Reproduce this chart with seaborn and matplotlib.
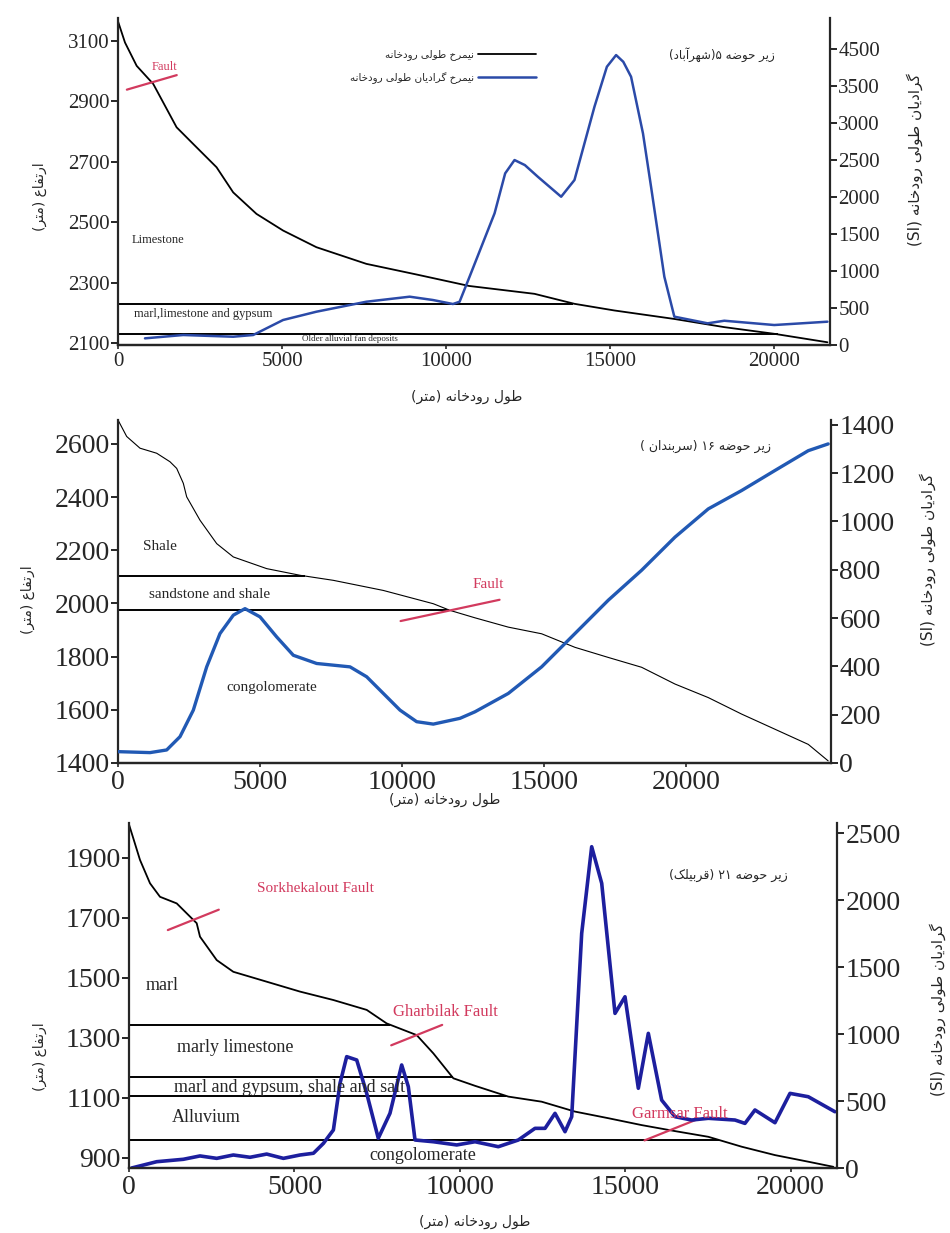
import re
import numpy as np
import pandas as pd
import matplotlib
matplotlib.use("Agg")
import matplotlib.pyplot as plt
import seaborn as sns

# matplotlib has no Arabic shaping, so Persian strings are shaped by hand
# (presentation forms) and put into visual order
FORMS = {
    'ا': (0xFE8D, 0xFE8E, None, None), 'آ': (0xFE81, 0xFE82, None, None),
    'ب': (0xFE8F, 0xFE90, 0xFE91, 0xFE92), 'ت': (0xFE95, 0xFE96, 0xFE97, 0xFE98),
    'ج': (0xFE9D, 0xFE9E, 0xFE9F, 0xFEA0), 'ح': (0xFEA1, 0xFEA2, 0xFEA3, 0xFEA4),
    'خ': (0xFEA5, 0xFEA6, 0xFEA7, 0xFEA8), 'د': (0xFEA9, 0xFEAA, None, None),
    'ر': (0xFEAD, 0xFEAE, None, None), 'ز': (0xFEAF, 0xFEB0, None, None),
    'س': (0xFEB1, 0xFEB2, 0xFEB3, 0xFEB4), 'ش': (0xFEB5, 0xFEB6, 0xFEB7, 0xFEB8),
    'ض': (0xFEBD, 0xFEBE, 0xFEBF, 0xFEC0), 'ط': (0xFEC1, 0xFEC2, 0xFEC3, 0xFEC4),
    'ع': (0xFEC9, 0xFECA, 0xFECB, 0xFECC), 'ف': (0xFED1, 0xFED2, 0xFED3, 0xFED4),
    'ق': (0xFED5, 0xFED6, 0xFED7, 0xFED8), 'ل': (0xFEDD, 0xFEDE, 0xFEDF, 0xFEE0),
    'م': (0xFEE1, 0xFEE2, 0xFEE3, 0xFEE4), 'ن': (0xFEE5, 0xFEE6, 0xFEE7, 0xFEE8),
    'ه': (0xFEE9, 0xFEEA, 0xFEEB, 0xFEEC), 'و': (0xFEED, 0xFEEE, None, None),
    'ی': (0xFBFC, 0xFBFD, 0xFBFE, 0xFBFF), 'ک': (0xFB8E, 0xFB8F, 0xFB90, 0xFB91),
    'گ': (0xFB92, 0xFB93, 0xFB94, 0xFB95),
}


def fa(s):
    out = []
    for i, c in enumerate(s):
        if c not in FORMS:
            out.append(c)
            continue
        iso, fin, ini, med = FORMS[c]
        prev = s[i - 1] if i > 0 else ''
        nxt = s[i + 1] if i + 1 < len(s) else ''
        jp = prev in FORMS and FORMS[prev][2] is not None
        jn = ini is not None and nxt in FORMS
        g = med if (jp and jn) else fin if jp else ini if jn else iso
        out.append(chr(g))
    toks = re.findall(r'[0-9۰-۹A-Za-z]+|.', ''.join(out))[::-1]
    swap = {'(': ')', ')': '('}
    return ''.join(swap.get(t, t) for t in toks)


# ---------------- data ----------------
# sub-basin 5 (Shahrabad)
p1_dist = [0, 213, 569, 1075, 1786, 2292, 3004, 3511, 4221, 5032, 6047, 7569, 9092,
           10700, 12694, 13912, 15130, 16956, 18478, 20000, 21622]
p1_elev = [3164, 3094, 3017, 2957, 2814, 2759, 2682, 2599, 2528, 2473, 2418, 2363, 2328,
           2290, 2264, 2231, 2209, 2181, 2154, 2132, 2104]
p1_sdist = [822, 1988, 3510, 4119, 5032, 6047, 7569, 8889, 9599, 10208, 10411, 10715,
            11477, 11800, 12085, 12400, 12796, 13506, 13912, 14521, 14900, 15181, 15400,
            15637, 16000, 16246, 16651, 16956, 17971, 18478, 20000, 21622]
p1_si = [90, 135, 112, 135, 338, 450, 585, 653, 608, 554, 585, 923,
         1780, 2320, 2500, 2432, 2274, 2004, 2230, 3220, 3761, 3919, 3828,
         3626, 2860, 2139, 923, 383, 293, 328, 270, 315]
p1_layers = [2232, 2130]
p1_faults = [1030]

# sub-basin 16 (Sarbandan)
p2_dist = [0, 306, 774, 1362, 1830, 2066, 2299, 2418, 2887, 3475, 4059, 5235, 6407, 7580,
           9339, 11100, 11687, 12567, 13740, 14913, 16087, 17260, 18433, 19607, 20780,
           21953, 23127, 24300, 25000]
p2_elev = [2690, 2628, 2584, 2565, 2533, 2508, 2452, 2401, 2313, 2225, 2175, 2131, 2106, 2087,
           2049, 1999, 1974, 1946, 1911, 1886, 1835, 1797, 1760, 1697, 1646,
           1584, 1527, 1470, 1408]
p2_sdist = [0, 1127, 1714, 2183, 2652, 3122, 3591, 4060, 4471, 4999, 5586, 6172, 6994, 8168,
            8754, 9927, 10514, 11100, 12040, 12567, 13740, 14913, 16087, 17260, 18433,
            19607, 20780, 21953, 23127, 24300, 25000]
p2_si = [47, 43, 54, 109, 219, 398, 536, 612, 639, 605, 522, 446, 412, 398,
         357, 219, 171, 161, 185, 212, 288, 398, 536, 674, 798,
         935, 1052, 1128, 1211, 1293, 1321]
p2_layers = [2103, 1976]
p2_faults = [11690]

# sub-basin 21 (Gharbilak)
p3_dist = [0, 130, 332, 635, 937, 1442, 1844, 2046, 2146, 2651, 3153, 4162, 5169, 6175, 7185,
           7787, 8696, 9200, 9804, 10458, 11465, 12474, 13481, 14488, 15496, 16503, 17510,
           18518, 19525, 20531, 21287]
p3_elev = [2010, 1964, 1892, 1814, 1769, 1747, 1703, 1681, 1636, 1558, 1519, 1486, 1453, 1425,
           1392, 1347, 1308, 1247, 1164, 1139, 1103, 1086, 1053, 1031, 1008, 988, 969,
           936, 908, 886, 869]
p3_sdist = [80, 837, 1643, 2146, 2651, 3153, 3658, 4162, 4667, 5169, 5575, 5877, 6178, 6378,
            6580, 6883, 7185, 7535, 7888, 8242, 8443, 8645, 9200, 9906, 10458, 11163, 11768,
            12272, 12575, 12877, 13179, 13381, 13683, 13985, 14288, 14690, 14992, 15395,
            15697, 16100, 16503, 17007, 17510, 18316, 18618, 18920, 19525, 19979, 20531, 21337]
p3_si = [0, 47, 65, 90, 72, 97, 80, 104, 72, 97, 110, 184, 284, 632,
         831, 806, 557, 222, 408, 769, 607, 209, 196, 172, 196, 159, 209,
         296, 296, 408, 271, 383, 1751, 2398, 2125, 1154, 1278, 595,
         1005, 507, 383, 358, 371, 358, 333, 433, 338, 557, 532, 420]
p3_layers = [1342, 1167, 1105, 958]
p3_faults = [1944, 8696, 16352]

p1_yticks = [2100, 2300, 2500, 2700, 2900, 3100]
p1_rticks = [0, 500, 1000, 1500, 2000, 2500, 3000, 3500, 4000]
p1_rlabels = ['0', '500', '1000', '1500', '2000', '2500', '3000', '3500', '4500']
p2_yticks = [1400, 1600, 1800, 2000, 2200, 2400, 2600]
p2_rticks = [0, 200, 400, 600, 800, 1000, 1200, 1400]
p3_yticks = [900, 1100, 1300, 1500, 1700, 1900]
p3_rticks = [0, 500, 1000, 1500, 2000, 2500]
xticks = [0, 5000, 10000, 15000, 20000]

lab_elev = 'ارتفاع (متر)'
lab_si = 'گرادیان طولی رودخانه (SI)'
lab_len = 'طول رودخانه (متر)'
leg_labels = ['نیمرخ طولی رودخانه', 'نیمرخ گرادیان طولی رودخانه']
basin_names = ['زیر حوضه ۵(شهرآباد)', 'زیر حوضه ۱۶ (سربندان )', 'زیر حوضه ۲۱ (قربیلک)']

# ---------------- plot ----------------
sns.set_style("ticks")
plt.rcParams['font.family'] = ['Liberation Serif', 'DejaVu Sans']
W, H = 950, 1233
fig = plt.figure(figsize=(9.5, 12.33), dpi=100)
RED = '#d23a5e'
FA = ['DejaVu Sans']


def px(x, y):
    return x / W, 1 - y / H


def panel(rect, dist, elev, sdist, si, xlim, ylim, rlim, yticks, rticks, blue,
          lw_e, lw_s, fs):
    ax = fig.add_axes(rect)
    ax2 = ax.twinx()
    sns.lineplot(x=dist, y=elev, ax=ax, color='black', lw=lw_e, legend=False)
    sns.lineplot(x=sdist, y=si, ax=ax2, color=blue, lw=lw_s, legend=False)
    for ln in ax.lines + ax2.lines:
        ln.set_solid_joinstyle('round')
    ax.set_xlim(*xlim)
    ax.set_ylim(*ylim)
    ax2.set_ylim(*rlim)
    ax.set_xticks(xticks)
    ax.set_yticks(yticks)
    ax2.set_yticks(rticks)
    for a in (ax, ax2):
        a.spines['top'].set_visible(False)
        for s in a.spines.values():
            s.set_linewidth(1.6)
        a.tick_params(axis='y', length=5, width=1.4, labelsize=fs, pad=1)
        a.tick_params(axis='x', length=3, width=1.2, labelsize=fs, pad=2)
        a.set_xlabel('')
        a.set_ylabel('')
    ax2.spines['left'].set_visible(False)
    ax.spines['right'].set_visible(False)
    return ax, ax2


def layers(ax, dist, elev, levels):
    for lv in levels:
        xe = np.interp(lv, elev[::-1], dist[::-1])
        ax.hlines(lv, 0, xe, color='black', lw=1.4, zorder=1)


def faults(ax, dist, elev, fx, hx, hy):
    for f in fx:
        fy = np.interp(f, dist, elev)
        ax.plot([f - hx, f + hx], [fy - hy, fy + hy], color=RED, lw=1.6, zorder=3)


# panel 1
ax, ax2 = panel([118 / W, 1 - 345 / H, 712 / W, 327 / H], p1_dist, p1_elev, p1_sdist, p1_si,
                (0, 21700), (2095, 3175), (0, 4420), p1_yticks, p1_rticks, '#2b4aa8',
                1.3, 1.8, 15)
ax2.set_yticklabels(p1_rlabels)
layers(ax, p1_dist, p1_elev, p1_layers)
faults(ax, p1_dist, p1_elev, p1_faults, 760, 24)
ax.legend(handles=[ax.lines[0], ax2.lines[0]], labels=[fa(t) for t in leg_labels],
          loc='upper right', bbox_to_anchor=px(545, 40), bbox_transform=fig.transFigure,
          frameon=False, markerfirst=False, handlelength=5.5, handletextpad=0.4,
          labelspacing=1.1, prop={'family': FA, 'size': 7.5})
fig.text(*px(165, 67), 'Fault', color=RED, fontsize=9, ha='center', va='center')
fig.text(*px(158, 240), 'Limestone', fontsize=9, ha='center', va='center')
fig.text(*px(203, 314), 'marl,limestone and gypsum', fontsize=9, ha='center', va='center')
fig.text(*px(350, 339), 'Older alluvial fan deposits', fontsize=6.5, ha='center', va='center')
fig.text(*px(722, 55), fa(basin_names[0]), family=FA, fontsize=8.5, ha='center', va='center')
fig.text(*px(40, 197), fa(lab_elev), family=FA, fontsize=10, rotation=90, ha='center', va='center')
fig.text(*px(915, 160), fa(lab_si), family=FA, fontsize=11, rotation=90, ha='center', va='center')
fig.text(*px(467, 397), fa(lab_len), family=FA, fontsize=10, ha='center', va='center')

# panel 2
ax, ax2 = panel([118 / W, 1 - 763 / H, 713 / W, 343 / H], p2_dist, p2_elev, p2_sdist, p2_si,
                (0, 25100), (1400, 2690), (0, 1420), p2_yticks, p2_rticks, '#2159b4',
                0.8, 2.4, 20)
layers(ax, p2_dist, p2_elev, p2_layers)
faults(ax, p2_dist, p2_elev, p2_faults, 1742, 40)
fig.text(*px(160, 547), 'Shale', fontsize=11, ha='center', va='center')
fig.text(*px(210, 594), 'sandstone and shale', fontsize=11, ha='center', va='center')
fig.text(*px(272, 687), 'congolomerate', fontsize=11, ha='center', va='center')
fig.text(*px(488, 585), 'Fault', color=RED, fontsize=11, ha='center', va='center')
fig.text(*px(705, 446), fa(basin_names[1]), family=FA, fontsize=9, ha='center', va='center')
fig.text(*px(28, 600), fa(lab_elev), family=FA, fontsize=10, rotation=90, ha='center', va='center')
fig.text(*px(928, 560), fa(lab_si), family=FA, fontsize=11, rotation=90, ha='center', va='center')
fig.text(*px(445, 800), fa(lab_len), family=FA, fontsize=10, ha='center', va='center')

# panel 3
ax, ax2 = panel([129 / W, 1 - 1168 / H, 708 / W, 345 / H], p3_dist, p3_elev, p3_sdist, p3_si,
                (0, 21400), (865, 2015), (0, 2575), p3_yticks, p3_rticks, '#1d1f9e',
                1.3, 2.6, 20)
layers(ax, p3_dist, p3_elev, p3_layers)
faults(ax, p3_dist, p3_elev, p3_faults, 770, 34)
fig.text(*px(315, 889), 'Sorkhekalout Fault', color=RED, fontsize=11, ha='center', va='center')
fig.text(*px(162, 986), 'marl', fontsize=13, ha='center', va='center')
fig.text(*px(235, 1047), 'marly limestone', fontsize=13, ha='center', va='center')
fig.text(*px(445, 1012), 'Gharbilak Fault', color=RED, fontsize=12, ha='center', va='center')
fig.text(*px(290, 1087), 'marl and gypsum, shale and salt', fontsize=13, ha='center', va='center')
fig.text(*px(206, 1118), 'Alluvium', fontsize=13, ha='center', va='center')
fig.text(*px(423, 1156), 'congolomerate', fontsize=13, ha='center', va='center')
fig.text(*px(680, 1114), 'Garmsar Fault', color=RED, fontsize=12, ha='center', va='center')
fig.text(*px(728, 875), fa(basin_names[2]), family=FA, fontsize=9, ha='center', va='center')
fig.text(*px(40, 1057), fa(lab_elev), family=FA, fontsize=10, rotation=90, ha='center', va='center')
fig.text(*px(938, 1010), fa(lab_si), family=FA, fontsize=11, rotation=90, ha='center', va='center')
fig.text(*px(475, 1222), fa(lab_len), family=FA, fontsize=10, ha='center', va='center')

fig.savefig('out.png', dpi=100, facecolor='white')
